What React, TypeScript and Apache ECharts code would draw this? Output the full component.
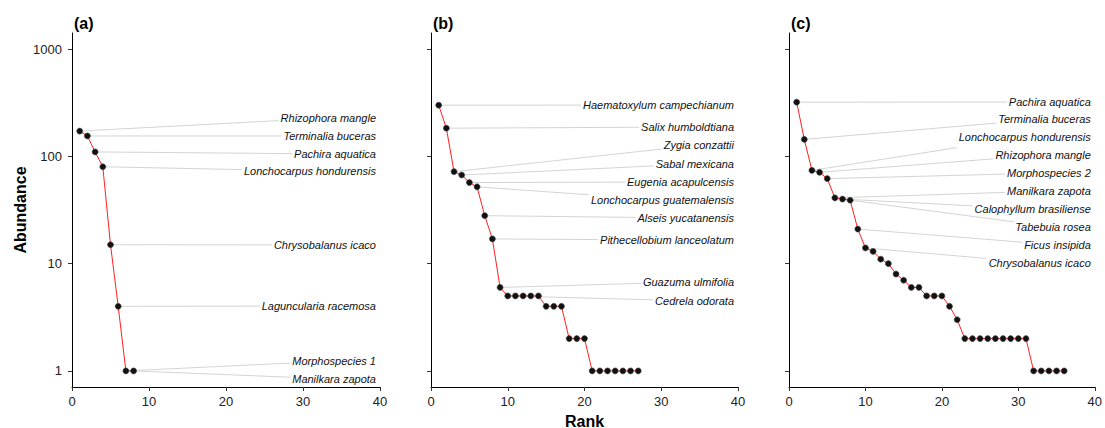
import React, { useEffect, useRef } from "react";
import * as echarts from "echarts";

// ---------- data ----------
const PANEL_TITLES = ["(a)", "(b)", "(c)"];
const X_TITLE = "Rank";
const Y_TITLE = "Abundance";

const abundanceA = [172, 155, 110, 80, 15, 4, 1, 1];
const speciesA = [
  "Rhizophora mangle",
  "Terminalia buceras",
  "Pachira aquatica",
  "Lonchocarpus hondurensis",
  "Chrysobalanus icaco",
  "Laguncularia racemosa",
  "Morphospecies 1",
  "Manilkara zapota",
];

const abundanceB = [300, 183, 72, 67, 57, 52, 28, 17, 6, 5, 5, 5, 5, 5, 4, 4, 4, 2, 2, 2, 1, 1, 1, 1, 1, 1, 1];
const speciesB = [
  "Haematoxylum campechianum",
  "Salix humboldtiana",
  "Zygia conzattii",
  "Sabal mexicana",
  "Eugenia acapulcensis",
  "Lonchocarpus guatemalensis",
  "Alseis yucatanensis",
  "Pithecellobium lanceolatum",
  "Guazuma ulmifolia",
  "Cedrela odorata",
];

const abundanceC = [
  320, 144, 74, 71, 62, 41, 40, 39, 21, 14, 13, 11, 10, 8, 7, 6, 6, 5, 5, 5, 4, 3,
  2, 2, 2, 2, 2, 2, 2, 2, 2, 1, 1, 1, 1, 1,
];
const speciesC = [
  "Pachira aquatica",
  "Terminalia buceras",
  "Lonchocarpus hondurensis",
  "Rhizophora mangle",
  "Morphospecies 2",
  "Manilkara zapota",
  "Calophyllum brasiliense",
  "Tabebuia rosea",
  "Ficus insipida",
  "Chrysobalanus icaco",
];

const xTicks = [0, 10, 20, 30, 40];
const yTicks = [1, 10, 100, 1000];

const ABUNDANCES = [abundanceA, abundanceB, abundanceC];
const SPECIES = [speciesA, speciesB, speciesC];

// ---------- layout ----------
const GRID_LEFT = [72, 431, 789];
const GRID_WIDTH = [308, 307, 307];
const GRID_TOP = 33;
const GRID_HEIGHT = 354;
// label vertical positions (pixels) as placed by the repel layout in the reference
const LABEL_Y = [
  [118, 136, 154, 171, 245, 306, 361, 379],
  [105, 127, 145, 164, 182, 200, 218, 240, 282, 301],
  [102, 119, 137, 155, 173, 191, 209, 227, 245, 263],
];
const Y_MIN = Math.pow(10, -0.15);
const Y_MAX = Math.pow(10, 3.15);
const LABEL_FONT = 'italic 11px "Liberation Sans"';

export default function App() {
  const ref = useRef<HTMLDivElement>(null);

  useEffect(() => {
    if (!ref.current) return;
    const chart = echarts.init(ref.current, null, { renderer: "svg" });

    const option: any = {
      animation: false,
      backgroundColor: "#ffffff",
      textStyle: { fontFamily: "Liberation Sans" },
      grid: GRID_LEFT.map((l, i) => ({
        left: l,
        top: GRID_TOP,
        width: GRID_WIDTH[i],
        height: GRID_HEIGHT,
        containLabel: false,
      })),
      xAxis: GRID_LEFT.map((_, i) => ({
        type: "value",
        gridIndex: i,
        min: xTicks[0],
        max: xTicks[xTicks.length - 1],
        interval: 10,
        axisLine: { show: true, onZero: false, lineStyle: { color: "#000", width: 1 } },
        axisTick: { show: true, length: 4, lineStyle: { color: "#333" } },
        axisLabel: { fontSize: 13, color: "#222", margin: 8, fontFamily: "Liberation Sans" },
        splitLine: { show: false },
      })),
      yAxis: GRID_LEFT.map((_, i) => ({
        type: "log",
        logBase: 10,
        gridIndex: i,
        min: Y_MIN,
        max: Y_MAX,
        axisLine: { show: true, onZero: false, lineStyle: { color: "#000", width: 1 } },
        axisTick: { show: true, length: 4, lineStyle: { color: "#333" }, customValues: yTicks },
        axisLabel: {
          show: i === 0,
          customValues: yTicks,
          fontSize: 13,
          color: "#222",
          margin: 10,
          fontFamily: "Liberation Sans",
          formatter: (v: number) => String(Math.round(v)),
        },
        splitLine: { show: false },
      })),
      series: ABUNDANCES.map((vals, i) => ({
        type: "line",
        xAxisIndex: i,
        yAxisIndex: i,
        data: vals.map((v, k) => [k + 1, v]),
        showSymbol: true,
        symbol: "circle",
        symbolSize: 6,
        itemStyle: { color: "#111", borderColor: "#444", borderWidth: 0.6 },
        lineStyle: { color: "#ff2020", width: 1 },
        z: 3,
      })),
    };
    chart.setOption(option);

    // labels with repel-style leader segments
    const canvas = document.createElement("canvas");
    const ctx = canvas.getContext("2d")!;
    ctx.font = LABEL_FONT;
    const graphics: any[] = [];
    SPECIES.forEach((names, gi) => {
      const right = (chart.convertToPixel({ gridIndex: gi } as any, [xTicks[xTicks.length - 1], 1]) as number[])[0] - 4;
      names.forEach((name, k) => {
        const pt = chart.convertToPixel({ gridIndex: gi } as any, [k + 1, ABUNDANCES[gi][k]]) as number[];
        const ly = LABEL_Y[gi][k];
        const w = ctx.measureText(name).width;
        const cx = right - w / 2;
        const lx = right - w - 2;
        const t = (lx - pt[0]) / (cx - pt[0]);
        const ey = pt[1] + t * (ly - pt[1]);
        graphics.push({
          type: "line",
          shape: { x1: pt[0], y1: pt[1], x2: lx, y2: ey },
          style: { stroke: "#d4d4d4", lineWidth: 1 },
          z: 0,
          silent: true,
        });
        graphics.push({
          type: "text",
          x: right,
          y: ly,
          style: {
            text: name,
            align: "right",
            verticalAlign: "middle",
            fontSize: 11,
            fontStyle: "italic",
            fontFamily: "Liberation Sans",
            fill: "#111",
          },
          z: 5,
        });
      });
      graphics.push({
        type: "text",
        x: GRID_LEFT[gi] + 2,
        y: 23,
        style: {
          text: PANEL_TITLES[gi],
          align: "left",
          verticalAlign: "middle",
          fontSize: 16,
          fontWeight: "bold",
          fontFamily: "Liberation Sans",
          fill: "#000",
        },
      });
    });
    // axis titles
    graphics.push({
      type: "text",
      x: GRID_LEFT[1] + GRID_WIDTH[1] / 2,
      y: 421,
      style: {
        text: X_TITLE,
        align: "center",
        verticalAlign: "middle",
        fontSize: 16,
        fontWeight: "bold",
        fontFamily: "Liberation Sans",
        fill: "#000",
      },
    });
    graphics.push({
      type: "text",
      x: 20,
      y: GRID_TOP + GRID_HEIGHT / 2,
      rotation: Math.PI / 2,
      style: {
        text: Y_TITLE,
        align: "center",
        verticalAlign: "middle",
        fontSize: 16,
        fontWeight: "bold",
        fontFamily: "Liberation Sans",
        fill: "#000",
      },
    });
    chart.setOption({ graphic: graphics });

    return () => chart.dispose();
  }, []);

  return (
    <div
      ref={ref}
      style={{ position: "absolute", left: 0, top: 0, width: 1105, height: 428 }}
    />
  );
}
